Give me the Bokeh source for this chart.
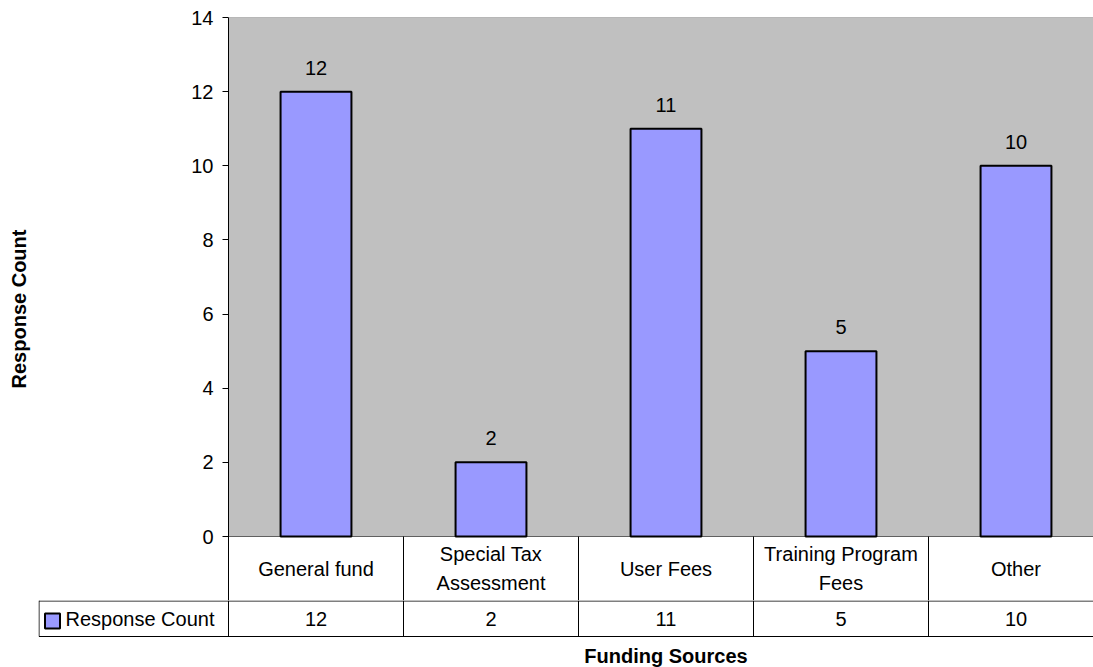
from bokeh.plotting import figure
from bokeh.layouts import column
from bokeh.models import Range1d, FixedTicker, Span, ColumnDataSource
from bokeh.core.properties import value
from bokeh.embed import file_html
from bokeh.resources import INLINE

# ---- data ----
categories = ["General fund", "Special Tax\nAssessment", "User Fees",
              "Training Program\nFees", "Other"]
counts = [12, 2, 11, 5, 10]
y_ticks = [0, 2, 4, 6, 8, 10, 12, 14]
series_name = "Response Count"
x_title = "Funding Sources"
y_title = "Response Count"

# ---- style / layout ----
FONT = "Liberation Sans"
FS = "20px"
BAR_COLOR = "#9999FF"
PLOT_BG = "#C0C0C0"
W = 1093
COL = 175.0            # px per category column
LEFT = 228             # chart frame left (px)
TOP = 17               # chart frame top (px)
ZERO = 536             # pixel row of value 0
SPLIT = 600            # boundary between category row and value row
TAB_LEFT = 38          # left edge of legend cell
PXU = (ZERO - TOP) / 14.0   # px per value unit

pos = [i + 0.5 for i in range(len(categories))]
labels = [str(c) for c in counts]
src = ColumnDataSource(dict(pos=pos, counts=counts, labels=labels, cats=categories))

x_end = (W - LEFT) / COL
y_low = -(SPLIT - ZERO) / PXU


def ypx(px):
    return (ZERO - px) / PXU


# ---- chart (with category row) ----
p = figure(width=W, height=SPLIT, x_range=Range1d(0, x_end), y_range=Range1d(y_low, 14),
           output_backend="svg", toolbar_location=None, frame_align=False,
           min_border_left=LEFT, min_border_right=0, min_border_top=TOP, min_border_bottom=0)
p.background_fill_color = "white"
p.border_fill_color = "white"
p.outline_line_color = None
p.xaxis.visible = False
p.xgrid.visible = False

p.quad(left=0, right=x_end, bottom=0, top=14, fill_color=PLOT_BG, line_color=None)

p.ygrid.ticker = FixedTicker(ticks=y_ticks[:-1])
p.ygrid.grid_line_color = "black"
p.ygrid.grid_line_width = 1
ax = p.yaxis[0]
ax.ticker = FixedTicker(ticks=y_ticks)
ax.major_tick_out = 6
ax.major_tick_in = 0
ax.minor_tick_line_color = None
ax.axis_line_color = "black"
ax.major_tick_line_color = "black"
ax.major_label_text_font = FONT
ax.major_label_text_font_size = FS
ax.major_label_text_color = "black"
ax.major_label_standoff = 9
ax.axis_label = y_title
ax.axis_label_text_font = FONT
ax.axis_label_text_font_size = FS
ax.axis_label_text_font_style = "bold"
ax.axis_label_text_color = "black"
ax.axis_label_standoff = 158

p.add_layout(Span(location=14, dimension="width", line_color="#808080", line_width=1))

p.vbar(x="pos", top="counts", width=0.405, source=src,
       fill_color=BAR_COLOR, line_color="black", line_width=2)
p.text(x="pos", y="counts", text="labels", source=src, text_align="center",
       text_baseline="middle", y_offset=-24, text_font=value(FONT),
       text_font_size=FS, text_color="black")

n = len(categories)
# column dividers in category row
p.segment(x0=list(range(1, n)), x1=list(range(1, n)), y0=[0] * (n - 1),
          y1=[y_low] * (n - 1), line_color="black", line_width=1)
p.text(x="pos", y=ypx(568), text="cats", source=src, text_align="center",
       text_baseline="middle", text_line_height=1.35, text_font=value(FONT),
       text_font_size=FS, text_color="black")

# ---- value row, legend key and x title ----
bx0 = -(LEFT - TAB_LEFT) / COL
b = figure(width=W, height=667 - SPLIT, x_range=Range1d(bx0, x_end),
           y_range=Range1d(667, SPLIT),
           output_backend="svg", toolbar_location=None, frame_align=False,
           min_border_left=TAB_LEFT, min_border_right=0, min_border_top=0, min_border_bottom=0)
b.background_fill_color = "white"
b.border_fill_color = "white"
b.outline_line_color = None
b.xaxis.visible = False
b.yaxis.visible = False
b.xgrid.visible = False
b.ygrid.visible = False

left_edge = bx0 + 0.5 / COL
b.segment(x0=[left_edge, left_edge], x1=[x_end, x_end], y0=[600.5, 636], y1=[600.5, 636],
          line_color="black", line_width=1)
b.segment(x0=[left_edge] + list(range(n)), x1=[left_edge] + list(range(n)),
          y0=[600] * (n + 1), y1=[636] * (n + 1), line_color="black", line_width=1)

b.text(x="pos", y=618, text="labels", source=src, text_align="center",
       text_baseline="middle", text_font=value(FONT), text_font_size=FS,
       text_color="black")

b.scatter(x=[bx0 + 14 / COL], y=[620.5], marker="square", size=15,
          fill_color=BAR_COLOR, line_color="black", line_width=2)
b.text(x=[bx0 + 27 / COL], y=[618], text=[series_name], text_align="left",
       text_baseline="middle", text_font=value(FONT), text_font_size=FS,
       text_color="black")

b.text(x=[n / 2.0], y=[655], text=[x_title], text_align="center",
       text_baseline="middle", text_font=value(FONT), text_font_size=FS,
       text_font_style="bold", text_color="black")

layout = column(p, b, spacing=0)
open("out.html", "w").write(file_html(layout, INLINE))
